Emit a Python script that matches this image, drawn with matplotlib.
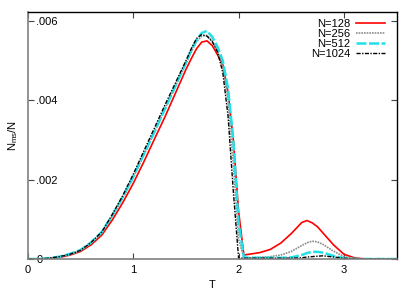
import numpy as np
import matplotlib
matplotlib.use("Agg")
import matplotlib.pyplot as plt

plt.rcParams['font.family'] = ['Liberation Sans', 'DejaVu Sans']
plt.rcParams['mathtext.fontset'] = 'custom'
plt.rcParams['mathtext.rm'] = 'Liberation Sans'
plt.rcParams['mathtext.it'] = 'Liberation Sans'

# 温度の格子
T = [0.0, 0.1, 0.2, 0.3, 0.4, 0.5, 0.6, 0.7, 0.8, 0.9, 1.0, 1.1, 1.2, 1.3, 1.4,
     1.5, 1.55, 1.6, 1.65, 1.7, 1.75, 1.8, 1.85, 1.9, 1.95, 2.0, 2.05, 2.1,
     2.2, 2.3, 2.4, 2.5, 2.6, 2.65, 2.7, 2.75, 2.8, 2.9, 3.0, 3.1, 3.2, 3.3, 3.4, 3.5]

n128 = [0, 0, 0.00001, 0.00004, 0.00010, 0.00019, 0.00036, 0.00060, 0.00098, 0.00142,
        0.00191, 0.00245, 0.00302, 0.00358, 0.00418, 0.00478, 0.00505, 0.00530, 0.00547,
        0.00550, 0.00538, 0.00515, 0.00490, 0.00420, 0.00300, 0.00120, 0.00010, 0.00012,
        0.00016, 0.00024, 0.00040, 0.00064, 0.00092, 0.00097, 0.00091, 0.00081, 0.00066,
        0.00036, 0.00012, 0.00003, 0, 0, 0, 0]
n256 = [0, 0, 0.00002, 0.00005, 0.00011, 0.00021, 0.00040, 0.00065, 0.00106, 0.00153,
        0.00205, 0.00262, 0.00320, 0.00378, 0.00436, 0.00492, 0.00522, 0.00548, 0.00562,
        0.00564, 0.00550, 0.00525, 0.00485, 0.00400, 0.00240, 0.00050, 0.00003, 0.00003,
        0.00004, 0.00006, 0.00010, 0.00019, 0.00034, 0.00041, 0.00045, 0.00043, 0.00037,
        0.00020, 0.00006, 0.00001, 0, 0, 0, 0]
n512 = [0, 0, 0.00002, 0.00006, 0.00013, 0.00023, 0.00042, 0.00068, 0.00110, 0.00157,
        0.00208, 0.00264, 0.00320, 0.00378, 0.00436, 0.00496, 0.00526, 0.00552, 0.00570,
        0.00575, 0.00560, 0.00535, 0.00500, 0.00430, 0.00300, 0.00090, 0.00004, 0.00003,
        0.00003, 0.00003, 0.00003, 0.00004, 0.00010, 0.00015, 0.00018, 0.00018, 0.00016,
        0.00008, 0.00002, 0, 0, 0, 0, 0]
n1024 = [0, 0, 0.00002, 0.00006, 0.00012, 0.00022, 0.00042, 0.00068, 0.00112, 0.00160,
         0.00214, 0.00272, 0.00330, 0.00388, 0.00444, 0.00500, 0.00530, 0.00556, 0.00566,
         0.00562, 0.00548, 0.00522, 0.00470, 0.00360, 0.00170, 0.00002, 0.00002, 0.00002,
         0.00002, 0.00002, 0.00002, 0.00002, 0.00003, 0.00005, 0.00006, 0.00007, 0.00008,
         0.00005, 0.00002, 0, 0, 0, 0, 0]

labels = ["N=128", "N=256", "N=512", "N=1024"]
xticks = [0, 1, 2, 3]
yticks = [0, 0.002, 0.004, 0.006]
ytick_labels = ["0", ".002", ".004", ".006"]

fig = plt.figure(figsize=(4.15, 2.91), dpi=100)
ax = fig.add_axes([0.0675, 0.110, 0.888, 0.849])

ax.plot(T, n128, color='#ff0000', lw=1.2, label=labels[0])
ax.plot(T, n256, color='#8c8c8c', lw=1.2, ls=(0, (1, 0.6)), label=labels[1])
ax.plot(T, n512, color='#22e0e8', lw=1.8, ls=(0, (4, 1)), label=labels[2])
ax.plot(T, n1024, color='#000000', lw=1.0, ls=(0, (3, 1, 1, 1)), label=labels[3])

ax.set_xlim(0, 3.5)
ax.set_ylim(0, 0.00623)
ax.set_xticks(xticks)
ax.set_yticks(yticks)
ax.set_yticklabels(ytick_labels)

ax.tick_params(axis='both', direction='in', length=4, width=0.8, labelsize=8,
               top=True, right=True, colors='#444444', labelcolor='black')
ax.tick_params(axis='y', pad=-6)
for t in ax.get_yticklabels():
    t.set_horizontalalignment('left')
ax.tick_params(axis='x', pad=4)

for side in ['left', 'bottom']:
    ax.spines[side].set_color('#808080')
    ax.spines[side].set_linewidth(1.2)
for side in ['top', 'right']:
    ax.spines[side].set_color('black')
    ax.spines[side].set_linewidth(1.0)

ax.set_xlabel("T", fontsize=8, labelpad=4)
ax.set_ylabel(r"N$_{ms}$/N", fontsize=8, labelpad=6)

ax.legend(loc='upper right', bbox_to_anchor=(0.969, 0.972), frameon=False,
          markerfirst=False, fontsize=8, handlelength=2.6, handletextpad=0.55,
          labelspacing=0.0, borderpad=0, borderaxespad=0)

fig.savefig("out.png", dpi=100)
